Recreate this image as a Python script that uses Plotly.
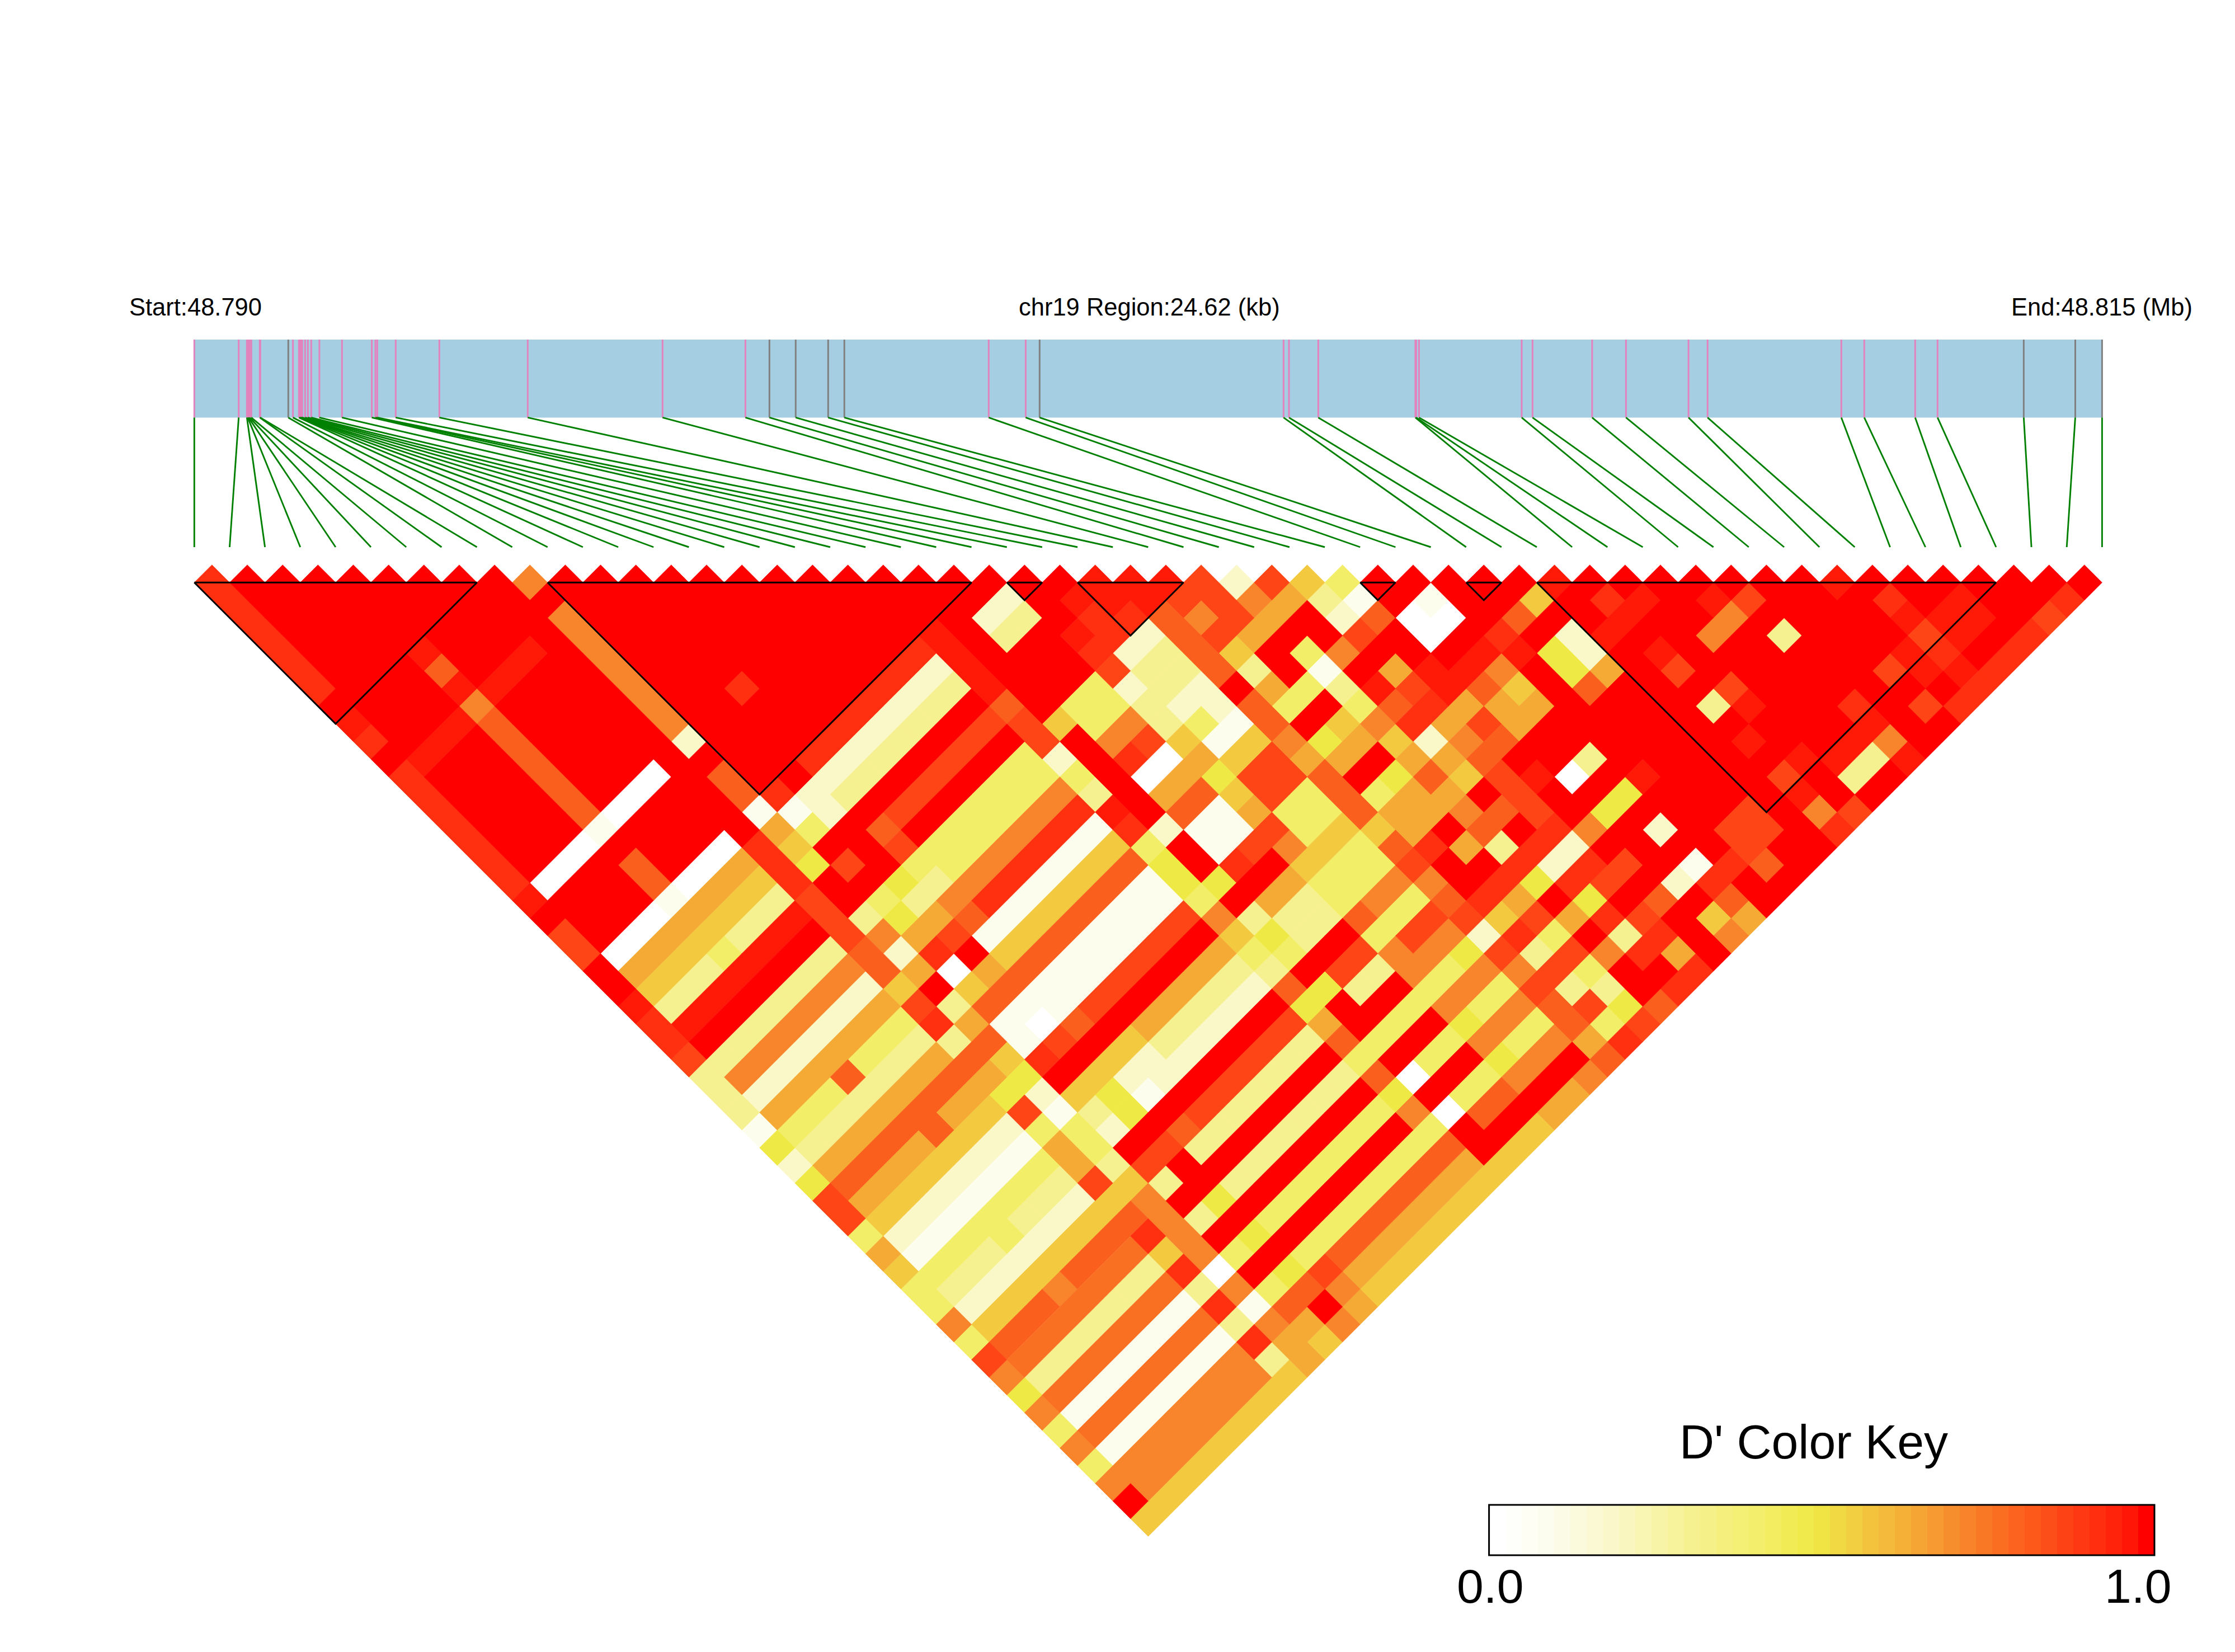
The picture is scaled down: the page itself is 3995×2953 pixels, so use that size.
import plotly.graph_objects as go
from plotly.colors import sample_colorscale

# SNP positions in kb from the region start
SNP_KB = [0, 0.573, 0.679, 0.690, 0.700, 0.715, 0.736, 0.845, 0.852, 1.213, 1.273,
          1.350, 1.361, 1.372, 1.383, 1.393, 1.430, 1.466, 1.509, 1.614, 1.906,
          2.291, 2.337, 2.361, 2.599, 3.162, 4.303, 6.043, 7.112, 7.422, 7.761,
          8.180, 8.389, 10.252, 10.729, 10.909, 14.057, 14.127, 14.505, 15.758,
          15.769, 15.805, 17.130, 17.270, 18.039, 18.476, 19.283, 19.529, 21.255,
          21.551, 22.208, 22.497, 23.609, 24.274, 24.62]
GRAY_SNPS = [9, 29, 30, 31, 32, 35, 52, 53, 54]
REGION_KB = 24.62

BLOCK_START = [0, 10, 23, 25, 33, 36, 38]
BLOCK_END = [8, 22, 24, 28, 34, 37, 51]

# D' per level code, one string per SNP j, holding pairs (0..j-1, j)
LEVEL_CODES = "w123456789eabcd"
LEVEL_VALUES = [0, .08, .18, .30, .41, .49, .56, .64, .72, .81, .77, .87, .92, .97, 1]
COLUMNS = [
    "b", "bd", "bdd", "bddd", "bdddd", "bddddd", "bdddddd", "dddddddd",
    "cdddcdddd",
    "bddd9dddd8",
    "ddddcdddddd",
    "bccc8cccd8dd",
    "bddd9dddd8ddd",
    "bddd9dddd8dddd",
    "bddd9dddd8ddddd",
    "bddd9dddd8dddddd",
    "bddd9dddd8ddddddd",
    "bddd9dddd8dddddddd",
    "cwww1wwwd2ddb" "dddddd",
    "dddddddddddddddddddd",
    "addd9dddd9" "ddddddddddd",
    "addd9dddd9" "dddddddddddd",
    "dwww1wwwd1bdb" "bbbbbb" "c" "ddd",
    "d7777777b71" "22222222" "cd22d",
    "c6666666b642" "3333333" "cd33dd",
    "b3334333b5" "ddddddddd" "c" "dddd" "cc",
    "b" "ccccccc" "adad9" "aaaaaa" "9" "ddd" "cbcc",
    "addddd" "dd" "a" "ddd" "a" "dddddd" "a" "ddd" "bbb" "cc",
    "33333333" "a3454" "444444" "a" "644" "a" "22" "9" "aa",
    "38888888" "98" "533" "444444" "2" "d" "44" "2" "33" "9" "8" "a" "2",
    "3" "2222222" "9" "2" "77" "8" "888888" "4" "d" "88" "333" "9" "aa" "8" "a",
    "1" "7777777" "6" "7" "b" "a" "9" "bbbbbb" "3" "d" "b" "a" "3" "22" "9" "6" "777" "6",
    "5" "444" "9" "4" "44" "a" "d" "w" "d" "1" "111111" "c" "d" "ww" "6" "4" "2" "d" "3" "ddd" "3" "4",
    "2" "3333" "3" "33" "b" "3" "6" "7" "6" "666666" "b" "d" "777" "11" "9" "7" "d" "4" "d" "2" "1" "d",
    "5" "7777777" "3" "7" "999" "999999" "4" "2" "99" "5" "66" "9" "44" "1" "8" "a" "9" "dd",
    "a" "9999999" "9" "9" "111" "111111" "5" "d" "11" "6" "aa" "8" "dd" "3" "ddd" "w" "1" "d",
    "a" "7777" "9" "777" "6" "1" "w" "1" "111111" "5" "d" "11" "7" "aa" "7" "5" "6" "4" "c" "7" "d" "ww" "dd",
    "4" "6666666" "55" "b" "a" "9" "aaaaaa" "4" "5" "b" "aa" "4" "4" "9" "7" "7" "8" "9" "a" "c" "dddd" "d",
    "7" "2222222" "a" "2" "ddd" "dddddd" "8" "ddd" "8" "44" "9" "dd" "6" "b" "b" "c" "c" "c" "b" "9" "6" "c",
    "6" "1111111" "4" "1" "666" "6" "77777" "6" "3" "77" "666" "9" "4" "5" "7" "2" "77" "9" "8" "c" "dddd",
    "4" "4444444" "7" "4" "3" "5" "22" "33333" "4" "5" "33" "444" "6" "7" "7" "9" "7" "8" "a" "7" "6" "d" "5" "2" "d" "b" "d",
    "4" "333" "4" "33" "3" "7" "4" "2" "5" "1" "2" "22222" "3" "4" "3" "3" "444" "9" "7" "7" "7" "6" "9" "9" "7" "7" "d" "5" "2" "c" "c" "c" "d",
    "8" "2222222" "a" "3" "ddd" "dddddd" "9" "ddd" "9" "8" "8" "a" "b" "d" "8" "d" "a" "d" "ddd" "9" "7" "ddddd",
    "4" "6666666" "6" "6" "aa" "9" "aaaaaa" "5" "5" "aa" "4" "4" "4" "8" "d" "7" "9" "9" "a" "c" "dddddd" "c" "dd" "c" "d",
    "a" "999" "8" "999" "9" "8" "3" "d" "3" "333333" "7" "d" "33" "8" "a" "a" "9" "d" "d" "3" "d" "a" "d" "w" "3" "dddd" "a" "d" "88" "a" "d",
    "8" "eeeeeee" "b" "8" "ddddddddd" "9" "ddd" "888" "a" "b" "b" "bbb" "dddddddddddddd",
    "5" "3333333" "68" "353" "333333" "4" "444" "44" "5" "2" "6" "7" "5" "22" "8" "55" "c" "ddd" "3" "a" "dd" "3" "dd" "c",
    "8" "eeeeeee" "b" "8" "ddddddddd" "9" "ddd" "8" "8" "8" "a" "b" "a" "d" "bb" "ddddddd" "d" "c" "ddddddd",
    "4" "1111111" "3" "w" "4" "5" "4444444" "5" "w" "4" "4" "5" "4" "4" "8" "3" "4" "7" "5" "aa" "d" "2" "dddd" "c" "ddddddd" "b" "d",
    "8" "eeeeeee" "b" "8" "ddddddddd" "8" "ddd" "888" "a" "aa" "d" "b" "dddddddddddddddd" "c" "dd",
    "4" "1111111" "3" "1" "4" "5" "44444444" "w" "44" "5" "44" "9" "3" "4" "8" "3" "a" "9" "2" "1" "d" "aa" "d" "a" "c" "dd" "b" "d" "a" "c" "a" "cc" "d",
    "8888888" "8" "b" "8" "99" "a" "9999999" "d" "99" "888" "9" "a" "3" "d" "bb" "dd" "bb" "aa" "d" "c" "d" "ccc" "dd" "c" "b" "cc" "dd",
    "d" "8888888" "3" "77" "d" "8" "7777777" "dddddd" "7" "4" "5" "dd" "7" "d" "6" "9" "d" "9" "dd" "8" "d" "33" "8" "d" "a" "d" "c" "ddddd",
    "666666666" "7" "6" "8" "7" "6666666666" "77" "8" "9" "b" "a" "9" "b" "b" "d" "8" "7" "dddd" "b" "a" "dd" "c" "dd" "bbbbb" "a" "b" "d",
]

KEY_STOPS = [0, .08, .18, .30, .41, .49, .56, .64, .72, .81, .87, .92, .97, 1]
KEY_COLORS = ["#FFFFFF", "#FDFDEE", "#FAF7C8", "#F6F190", "#F3EE68", "#EFE945", "#F3C940",
              "#F5AA35", "#F8852B", "#FB5F1D", "#FD4515", "#FE3010", "#FF1A08", "#FF0000"]
KEY_STEPS = 41

for j, col in enumerate(COLUMNS, start=1):
    if len(col) != j:
        raise ValueError(f"column {j} has {len(col)} cells")

W, H = 3995, 2953
X0, UNIT, Y0 = 347.3, 63.15, 1041.3
colorscale = [[s, c] for s, c in zip(KEY_STOPS, KEY_COLORS)]


def ux(px):
    return (px - X0) / UNIT


def uy(py):
    return (py - Y0) / UNIT


fig = go.Figure()

# one filled trace per level, each cell is a diamond in SNP units
for code, val in zip(LEVEL_CODES, LEVEL_VALUES):
    xs, ys = [], []
    for j, col in enumerate(COLUMNS, start=1):
        for i, c in enumerate(col):
            if c != code:
                continue
            cx, cy = (i + j) / 2, (j - i - 1) / 2
            xs += [cx - .5, cx, cx + .5, cx, cx - .5, None]
            ys += [cy, cy - .5, cy, cy + .5, cy, None]
    if not xs:
        continue
    color = sample_colorscale(colorscale, [val], colortype="rgb")[0]
    fig.add_scatter(x=xs, y=ys, mode="lines", fill="toself", fillcolor=color,
                    line=dict(color=color, width=.7), hoverinfo="skip")

# LD blocks
bx, by = [], []
for a, b in zip(BLOCK_START, BLOCK_END):
    bx += [a, b, (a + b) / 2, a, None]
    by += [0, 0, (b - a) / 2, 0, None]
fig.add_scatter(x=bx, y=by, mode="lines", line=dict(color="black", width=3), hoverinfo="skip")

# region bar
n = len(SNP_KB)
bar_top, bar_bottom, link_bottom = uy(607), uy(746.4), uy(978)
snp_x = [k / REGION_KB * (n - 1) for k in SNP_KB]
fig.add_shape(type="rect", x0=0, x1=n - 1, y0=bar_top, y1=bar_bottom,
              fillcolor="#A6CEE3", line_width=0, layer="below")
for name, color in (("pink", "#E283BE"), ("gray", "#808080")):
    lx, ly = [], []
    for i, x in enumerate(snp_x):
        if (i in GRAY_SNPS) == (name == "gray"):
            lx += [x, x, None]
            ly += [bar_top, bar_bottom, None]
    fig.add_scatter(x=lx, y=ly, mode="lines", line=dict(color=color, width=3), hoverinfo="skip")

lx, ly = [], []
for i, x in enumerate(snp_x):
    lx += [x, i, None]
    ly += [bar_bottom, link_bottom, None]
fig.add_scatter(x=lx, y=ly, mode="lines", line=dict(color="#008000", width=2.9), hoverinfo="skip")

# colour key
key_l, key_r, key_t, key_b = ux(2661.6), ux(3851), uy(2690), uy(2780)
dx = (key_r - key_l) / KEY_STEPS
fig.add_heatmap(z=[[s / (KEY_STEPS - 1) for s in range(KEY_STEPS)]], x0=key_l + dx / 2, dx=dx,
                y0=(key_t + key_b) / 2, dy=key_b - key_t, colorscale=colorscale,
                zmin=0, zmax=1, showscale=False, hoverinfo="skip")
fig.add_shape(type="rect", x0=key_l, x1=key_r, y0=key_t, y1=key_b, line=dict(color="black", width=3))

texts = [
    ("Start:48.790", 229, 549, "left", 43.5),
    ("chr19 Region:24.62 (kb)", 2054, 549, "center", 43.5),
    ("End:48.815 (Mb)", 3921, 549, "right", 43.5),
    ("D' Color Key", 3242, 2577, "center", 86),
    ("0.0", 2664, 2835, "center", 86),
    ("1.0", 3822, 2835, "center", 86),
]
for t, px, py, anchor, size in texts:
    fig.add_annotation(x=ux(px), y=uy(py), text=t, showarrow=False, xanchor=anchor, yanchor="middle",
                       font=dict(family="Liberation Sans", size=size, color="black"))

fig.update_layout(width=W, height=H, margin=dict(l=0, r=0, t=0, b=0), showlegend=False,
                  paper_bgcolor="white", plot_bgcolor="white")
fig.update_xaxes(range=[ux(0), ux(W)], visible=False)
fig.update_yaxes(range=[uy(H), uy(0)], visible=False)

fig.write_html("out.html", post_script="document.body.style.margin='0';",
               config={"displayModeBar": False})
